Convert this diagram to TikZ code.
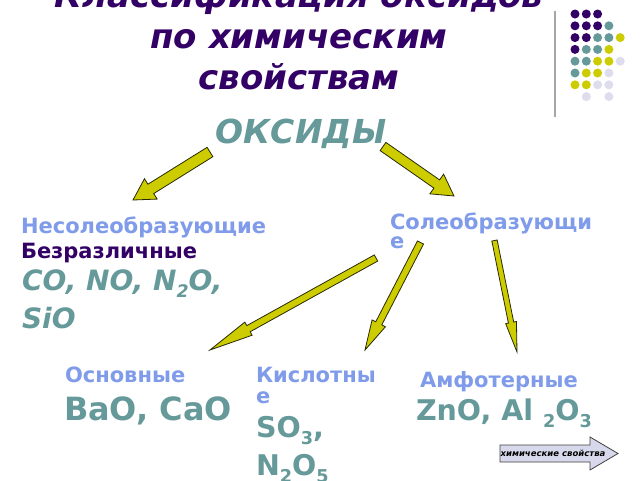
\documentclass[tikz,border=0pt]{standalone}
\usepackage{fontspec}
\setmainfont{DejaVu Sans}
\usetikzlibrary{calc}
\definecolor{titlepurple}{HTML}{330066}
\definecolor{tealc}{HTML}{669999}
\definecolor{lblue}{HTML}{7F9BEA}
\definecolor{olivey}{HTML}{CCCC00}
\definecolor{lav}{HTML}{DDDDEE}
\definecolor{btnfill}{HTML}{D8D8EC}
\newcommand{\lowix}[1]{\raisebox{-0.28em}{\scalebox{0.62}{#1}}}
\newcommand{\blockarrow}[5]{%
  \path ($(#2)!#5!(#1)$) coordinate (bah);
  \draw[blockarr] ($(#1)!#3!90:(#2)$) -- ($(bah)!#3!90:(#2)$) -- ($(bah)!#4!90:(#2)$) -- (#2)
    -- ($(bah)!#4!-90:(#2)$) -- ($(bah)!#3!-90:(#2)$) -- ($(#1)!#3!-90:(#2)$) -- cycle;}
\tikzset{
  txt/.style={inner sep=0pt, outer sep=0pt, anchor=base west},
  titletxt/.style={inner sep=0pt, anchor=base, text=titlepurple, font=\fontsize{34}{40}\selectfont\bfseries\itshape},
  catlbl/.style={txt, text=lblue, font=\fontsize{21}{25}\selectfont\bfseries},
  formula/.style={txt, text=tealc, font=\fontsize{28.5}{34}\selectfont\bfseries},
  blockarr/.style={fill=olivey, draw=black!80!olivey, line width=0.8pt, line join=miter},
  dot/.style={circle, inner sep=0pt, minimum size=9pt},
}
\begin{document}
\begin{tikzpicture}[x=1pt, y=-1pt]
\useasboundingbox (0,0) rectangle (640,480);
\fill[white] (0,0) rectangle (640,480);

% title
\node[titletxt] (t1) at (299,7) {Классификация оксидов};
\node[titletxt] (t2) at (299,48) {по химическим};
\node[titletxt] (t3) at (299,89) {свойствам};

% decoration
\draw[gray!70, line width=1.5pt] (555,11) coordinate (vl1) -- (555,117) coordinate (vl2);
\foreach \c/\r/\col in {0/0/titlepurple,1/0/titlepurple,2/0/titlepurple,
  0/1/titlepurple,1/1/titlepurple,2/1/titlepurple,3/1/tealc,
  0/2/titlepurple,1/2/titlepurple,2/2/tealc,3/2/tealc,4/2/olivey,
  0/3/titlepurple,1/3/tealc,2/3/tealc,3/3/olivey,
  0/4/tealc,1/4/tealc,2/4/olivey,3/4/olivey,4/4/lav,
  0/5/tealc,1/5/olivey,2/5/olivey,3/5/lav,
  0/6/olivey,1/6/olivey,2/6/lav,3/6/lav,
  1/7/lav,3/7/lav}
  \node[dot, fill=\col] (d\c\r) at ({575+11.3*\c},{14+11.8*\r}) {};

% root
\node[inner sep=0pt, anchor=base, text=tealc, font=\fontsize{33}{40}\selectfont\bfseries\itshape] (ox) at (301,143) {ОКСИДЫ};

% left branch
\node[catlbl] (nes) at (21,233) {Несолеобразующие};
\node[txt, text=titlepurple, font=\fontsize{21}{25}\selectfont\bfseries] (bez) at (21,258) {Безразличные};
\node[txt, text=tealc, font=\fontsize{28}{32}\selectfont\bfseries\itshape] (co) at (22,290) {CO, NO, N\lowix{2}O,};
\node[txt, text=tealc, font=\fontsize{28}{32}\selectfont\bfseries\itshape] (sio) at (22,328) {SiO};

% right branch
\node[catlbl] (sol1) at (390,229) {Солеобразующи};
\node[catlbl] (sol2) at (390,248) {е};

\node[catlbl] (osn) at (65,382) {Основные};
\node[txt, text=tealc, font=\fontsize{32}{38}\selectfont\bfseries] (bao) at (64,420) {BaO, CaO};

\node[catlbl] (kis1) at (256,382) {Кислотны};
\node[catlbl] (kis2) at (256,403) {е};
\node[formula] (so3) at (256,437) {SO\lowix{3},};
\node[formula] (n2o5) at (256,475) {N\lowix{2}O\lowix{5}};

\node[catlbl] (amf) at (420,387) {Амфотерные};
\node[formula] (zno) at (416,420) {ZnO, Al \lowix{2}O\lowix{3}};

% arrows
\coordinate (a1s) at (210,152); \coordinate (a1e) at (133,200);
\coordinate (a2s) at (383,146.5); \coordinate (a2e) at (454,196);
\coordinate (a3s) at (376,258); \coordinate (a3e) at (210,350);
\coordinate (a4s) at (420.5,242.5); \coordinate (a4e) at (365,350);
\coordinate (a5s) at (494.5,240.5); \coordinate (a5e) at (517,352);
\blockarrow{a1s}{a1e}{5.5pt}{12pt}{21pt}
\blockarrow{a2s}{a2e}{5pt}{12pt}{21pt}
\blockarrow{a3s}{a3e}{3.5pt}{7.5pt}{44pt}
\blockarrow{a4s}{a4e}{3.4pt}{7.5pt}{30pt}
\blockarrow{a5s}{a5e}{2.7pt}{5.5pt}{30pt}

% button
\draw[fill=btnfill, draw=black!75, line width=0.8pt, line join=miter]
  (500,445) coordinate (b1) -- (590,445) -- (590,437) -- (618,453.5) coordinate (btip) -- (590,470) -- (590,462) -- (500,462) -- cycle;
\node[inner sep=0pt, font=\fontsize{8.5}{10}\selectfont\bfseries\itshape, text=black] (btn) at (553,453.5) {химические свойства};
\end{tikzpicture}
\end{document}
